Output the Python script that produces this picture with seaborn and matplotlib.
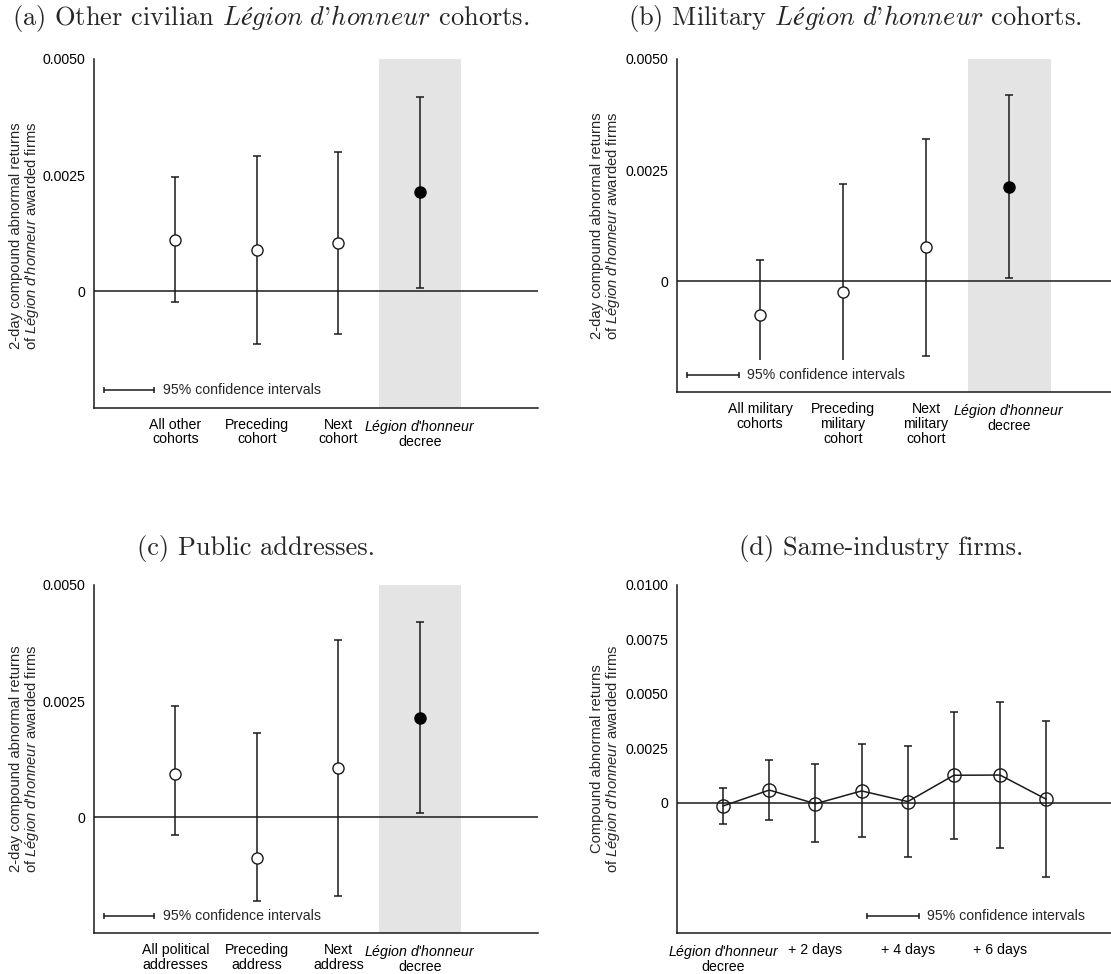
import numpy as np
import pandas as pd
import matplotlib
matplotlib.use("Agg")
import matplotlib.pyplot as plt
import seaborn as sns

sns.set_style("white")
plt.rcParams['font.family'] = ['Liberation Sans', 'DejaVu Sans']
plt.rcParams['mathtext.fontset'] = 'custom'
plt.rcParams['mathtext.it'] = 'Liberation Sans:italic'
plt.rcParams['mathtext.rm'] = 'Liberation Sans'

LH = r"$\mathit{Légion\ d}$'$\mathit{honneur}$"
LH_T = r"$\mathit{Légion\ d}$'$\mathit{honneur}$"

# ---------------- data ----------------
a_labels = ["All other\ncohorts", "Preceding\ncohort", "Next\ncohort", LH + "\ndecree"]
a_est = [0.00111, 0.00089, 0.00105, 0.00213]
a_lo = [-0.00023, -0.00112, -0.00091, 0.00008]
a_hi = [0.00246, 0.00291, 0.00301, 0.00418]

b_labels = ["All military\ncohorts", "Preceding\nmilitary\ncohort", "Next\nmilitary\ncohort", LH + "\ndecree"]
b_est = [-0.00076, -0.00025, 0.00076, 0.00213]
b_lo = [-0.00177, -0.00177, -0.00168, 0.00008]
b_hi = [0.00047, 0.00219, 0.00320, 0.00419]
b_lo_cap = [False, False, True, True]

c_labels = ["All political\naddresses", "Preceding\naddress", "Next\naddress", LH + "\ndecree"]
c_est = [0.00093, -0.00088, 0.00105, 0.00213]
c_lo = [-0.00039, -0.00181, -0.00170, 0.00008]
c_hi = [0.00239, 0.00181, 0.00381, 0.00420]

d_days = [0, 1, 2, 3, 4, 5, 6, 7]
d_est = [-0.00015, 0.00058, -0.00005, 0.00054, 0.00005, 0.00126, 0.00127, 0.00016]
d_lo = [-0.00097, -0.00080, -0.00182, -0.00158, -0.00251, -0.00165, -0.00210, -0.00343]
d_hi = [0.00068, 0.00198, 0.00176, 0.00268, 0.00262, 0.00415, 0.00464, 0.00377]
d_ticks = [0, 2, 4, 6]
d_ticklabels = [LH + "\ndecree", "+ 2 days", "+ 4 days", "+ 6 days"]

abc_yticks = [0, 0.0025, 0.0050]
abc_yticklabels = ["0", "0.0025", "0.0050"]
d_yticks = [0, 0.0025, 0.0050, 0.0075, 0.0100]
d_yticklabels = ["0", "0.0025", "0.0050", "0.0075", "0.0100"]

titles = ["(a) Other civilian " + LH_T + " cohorts.",
          "(b) Military " + LH_T + " cohorts.",
          "(c) Public addresses.",
          "(d) Same-industry firms."]
ylab_abc = "2-day compound abnormal returns\nof " + LH + " awarded firms"
ylab_d = "Compound abnormal returns\nof " + LH + " awarded firms"
legend_text = "95% confidence intervals"

# ---------------- figure ----------------
W, H = 1111, 974
fig = plt.figure(figsize=(W / 100, H / 100), dpi=100)

def px_axes(left, top, width, height):
    return fig.add_axes([left / W, 1 - (top + height) / H, width / W, height / H])

FS = 10.2
LW = 1.1
INK = "#1a1a1a"

def style_axes(ax):
    for s in ["top", "right"]:
        ax.spines[s].set_visible(False)
    for s in ["left", "bottom"]:
        ax.spines[s].set_color(INK)
        ax.spines[s].set_linewidth(LW)
    ax.tick_params(axis="both", direction="out", colors=INK, labelcolor="black",
                   width=LW, labelsize=FS)
    ax.tick_params(axis="y", length=4.2, pad=2)
    ax.tick_params(axis="x", length=4.5, pad=2.8)
    ax.grid(False)

def fix_lh_label(ax, idx):
    lab = ax.get_xticklabels()[idx]
    lab.set_linespacing(0.9)

def legend_ci(ax, x0, x1, y, tx):
    ax.plot([x0, x1], [y, y], transform=ax.transAxes, color=INK, lw=LW, clip_on=False)
    ax.plot([x0, x1], [y, y], transform=ax.transAxes, ls="none", marker="|",
            ms=5, mew=LW, color=INK, clip_on=False)
    ax.text(tx, y, legend_text, transform=ax.transAxes, fontsize=FS, va="center", ha="left")

def cat_panel(ax, labels, est, lo, hi, lo_cap=None):
    x = np.arange(1, len(est) + 1)
    ax.axvspan(3.5, 4.5, color="#e4e4e4", lw=0, zorder=0)
    ax.axhline(0, color=INK, lw=LW, zorder=1)
    est = np.asarray(est); lo = np.asarray(lo); hi = np.asarray(hi)
    ax.errorbar(x, est, yerr=[est - lo, hi - est], fmt="none", ecolor=INK,
                elinewidth=LW, capsize=0, zorder=2)
    if lo_cap is None:
        lo_cap = [True] * len(est)
    ax.plot(x, hi, ls="none", marker="_", ms=6, mew=LW, color=INK, zorder=2)
    capx = [xi for xi, c in zip(x, lo_cap) if c]
    capy = [yi for yi, c in zip(lo, lo_cap) if c]
    ax.plot(capx, capy, ls="none", marker="_", ms=6, mew=LW, color=INK, zorder=2)
    df = pd.DataFrame({"x": x, "y": est, "kind": ["open"] * (len(est) - 1) + ["decree"]})
    sns.scatterplot(data=df[df.kind == "open"], x="x", y="y", ax=ax, s=64,
                    facecolor="white", edgecolor=INK, linewidth=1.0, zorder=3, legend=False)
    sns.scatterplot(data=df[df.kind == "decree"], x="x", y="y", ax=ax, s=64,
                    color="black", edgecolor="black", linewidth=1.0, zorder=3, legend=False)
    ax.set_xlim(0, 5.45)
    ax.set_ylim(-0.0025, 0.0050)
    ax.set_xticks(x)
    ax.set_xticklabels(labels, fontsize=FS, linespacing=1.05)
    ax.set_yticks(abc_yticks)
    ax.set_yticklabels(abc_yticklabels)
    ax.set_xlabel("")
    ax.set_ylabel("")
    style_axes(ax)
    fix_lh_label(ax, -1)

# (a)
ax_a = px_axes(94, 59, 444, 348.7)
cat_panel(ax_a, a_labels, a_est, a_lo, a_hi)
legend_ci(ax_a, 0.022, 0.136, 0.051, 0.155)

# (b)
ax_b = px_axes(677, 59, 452.4, 333.3)
cat_panel(ax_b, b_labels, b_est, b_lo, b_hi, b_lo_cap)
legend_ci(ax_b, 0.0214, 0.1377, 0.051, 0.155)

# (c)
ax_c = px_axes(94, 585, 444, 348.3)
cat_panel(ax_c, c_labels, c_est, c_lo, c_hi)
legend_ci(ax_c, 0.022, 0.136, 0.050, 0.155)

# (d)
ax_d = px_axes(677, 585, 438.4, 348.3)
ax_d.axhline(0, color=INK, lw=LW, zorder=1)
de = np.asarray(d_est); dl = np.asarray(d_lo); dh = np.asarray(d_hi)
ax_d.errorbar(d_days, de, yerr=[de - dl, dh - de], fmt="none", ecolor=INK,
              elinewidth=LW, capsize=3, capthick=LW, zorder=2)
ddf = pd.DataFrame({"day": d_days, "car": d_est})
sns.lineplot(data=ddf, x="day", y="car", ax=ax_d, color=INK, lw=LW, zorder=3,
             marker="o", markersize=9.5, markerfacecolor="none",
             markeredgecolor=INK, markeredgewidth=1.0)
ax_d.set_xlim(-1, 8.5)
ax_d.set_ylim(-0.0060, 0.0100)
ax_d.set_xticks(d_ticks)
ax_d.set_xticklabels(d_ticklabels, fontsize=FS, linespacing=1.05)
ax_d.set_yticks(d_yticks)
ax_d.set_yticklabels(d_yticklabels)
ax_d.set_xlabel("")
ax_d.set_ylabel("")
style_axes(ax_d)
fix_lh_label(ax_d, 0)
legend_ci(ax_d, 0.433, 0.553, 0.050, 0.570)

# y labels
def ylab(xc, yc, s):
    fig.text(xc / W, 1 - yc / H, s, rotation=90, ha="center", va="center",
             multialignment="center", fontsize=10.6, linespacing=0.98)

ylab(25, 236, ylab_abc)
ylab(606, 225.5, ylab_abc)
ylab(25, 759, ylab_abc)
ylab(606, 759, ylab_d)

# titles
def title(xc, yc, s):
    fig.text(xc / W, 1 - yc / H, s, ha="center", va="center", fontsize=19,
             family="cmr10", math_fontfamily="cm")

title(271, 19, titles[0])
title(855, 19, titles[1])
title(256, 549, titles[2])
title(881, 549, titles[3])

fig.savefig("out.png", dpi=100)
